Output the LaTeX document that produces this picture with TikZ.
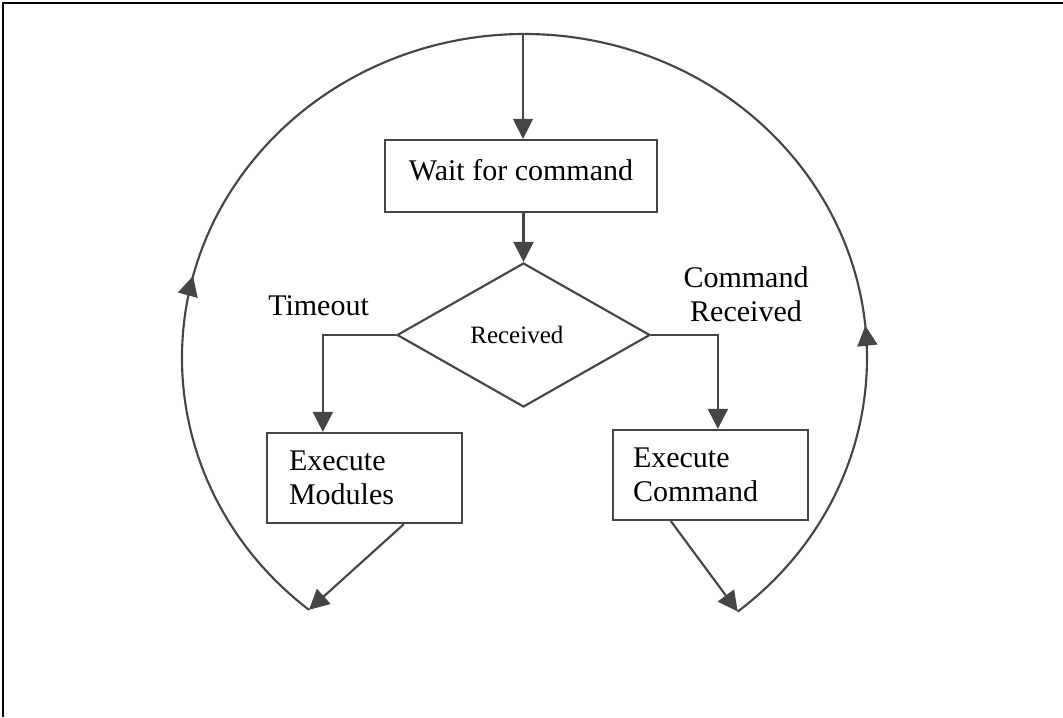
\documentclass[tikz,border=0pt]{standalone}
\usepackage{fontspec}
\setmainfont{Liberation Serif}
\usetikzlibrary{arrows.meta,shapes.geometric,calc,decorations.markings}
\definecolor{ink}{HTML}{454545}
\begin{document}
\begin{tikzpicture}[x=0.75pt,y=-0.75pt,
  txt/.style={font=\fontsize{22.5}{25.5}\selectfont, inner sep=0pt},
  box/.style={txt, draw=ink, line width=1.7pt, rectangle},
  flow/.style={draw=ink, line width=1.6pt, -{Triangle[length=15pt,width=15pt]}},
  loop/.style={draw=ink, line width=1.6pt, postaction={decorate},
    decoration={markings, mark=at position #1 with {\arrow{Triangle[length=15pt,width=15pt]}}}}]
\useasboundingbox (0,0) rectangle (1063,717);
% frame edges
\draw[black, line width=1.2pt] (3,717) -- (3,3) -- (1063,3);

% nodes
\node[box, minimum width=204pt, minimum height=54pt, text depth=9pt] (wait) at (521,176) {Wait for command};
\node[draw=ink, line width=1.6pt, diamond, inner sep=0pt, minimum width=189.75pt, minimum height=108pt,
  font=\fontsize{18.75}{21}\selectfont] (dec) at (523.5,335) {Received\kern10pt};
\node[box, minimum width=146.25pt, minimum height=67.5pt, align=left, text width=113.25pt] (mods) at (364.5,478) {Execute\\Modules};
\node[box, minimum width=146.25pt, minimum height=67.5pt, align=left, text width=116.25pt] (cmd) at (710.5,475) {Execute\\Command};

% branch labels
\node[txt, anchor=base west] (tlab) at (268,315) {Timeout};
\node[txt, align=center] (clab) at (746,294) {Command\\Received};

% loop ends
\coordinate (C) at (524.5,358);
\coordinate (arcL) at ($(C)+(129:342.5 and 324)$);
\coordinate (arcR) at ($(C)+(51.5:342.5 and 324)$);
\coordinate (top) at (523,34);

% return loops
\draw[loop=0.46] (arcL) arc[start angle=129, end angle=270, x radius=342.5, y radius=324];
\draw[loop=0.40] (arcR) arc[start angle=51.5, end angle=-90, x radius=342.5, y radius=324];

% main flow
\draw[flow, line width=1.1pt] (top) -- (top |- wait.north);
\draw[flow] (wait.south -| dec.north) -- (dec.north);
\draw[flow] (dec.west) -| ($(mods.north west)+(57,0)$);
\draw[flow] (dec.east) -| ($(cmd.north west)+(106,0)$);
\draw[flow] ($(mods.south west)+(138,0)$) -- (arcL);
\draw[flow] ($(cmd.south west)+(59,0)$) -- (arcR);
\end{tikzpicture}
\end{document}
